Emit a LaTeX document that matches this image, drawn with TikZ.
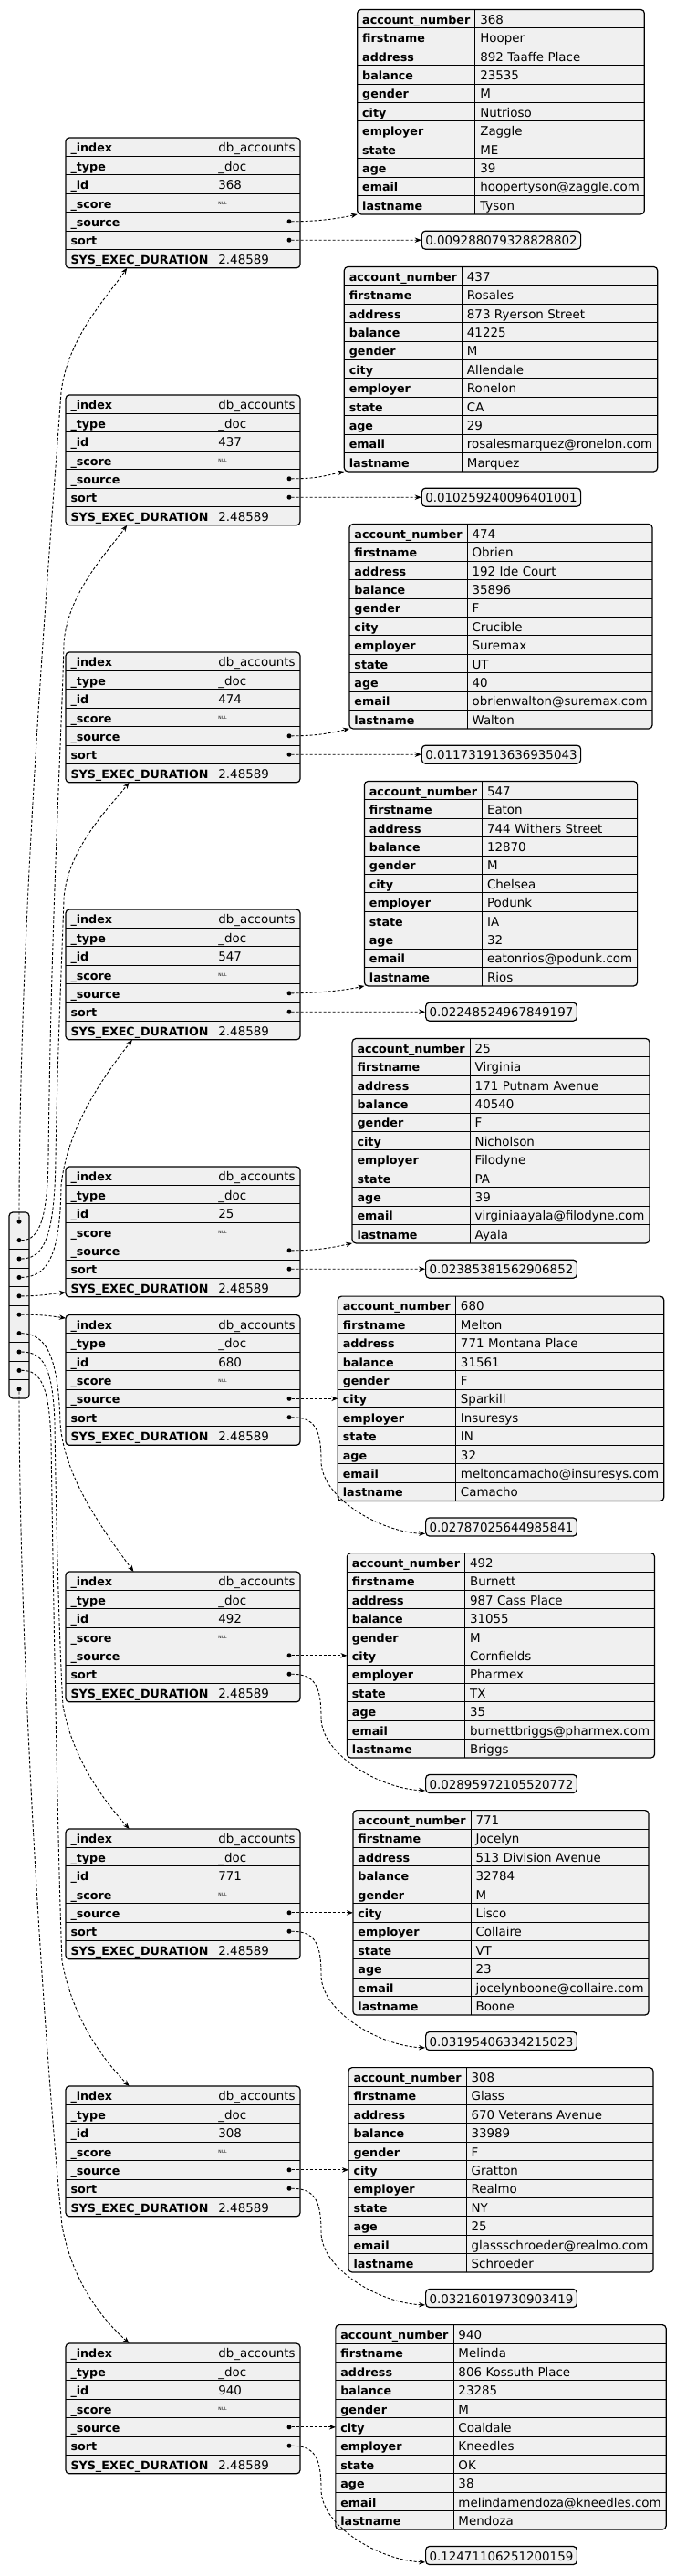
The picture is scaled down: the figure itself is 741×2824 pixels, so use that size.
\documentclass[tikz,border=0pt]{standalone}
\usepackage{fontspec}
\setmainfont{DejaVu Sans}
\usetikzlibrary{
  arrows.meta,
  positioning,  % Function "of" (e.g. [right=of x])
  backgrounds,  % Predefined layer named "background"
  calc,         % Calculations $...$
}
\definecolor{cellfill}{HTML}{F0F0F0}
\newcommand{\keyfont}{\fontsize{12.7}{15}\selectfont\bfseries}
\newcommand{\valfont}{\fontsize{13.4}{16}\selectfont}
\newcommand{\nulmark}{\raisebox{3.5pt}{\fontsize{4.5}{5}\selectfont NUL}}
\newcommand{\srckey}[1]{\ifcase#1\or account\_number\or firstname\or address\or
  balance\or gender\or city\or employer\or state\or age\or email\or lastname\fi}
\def\myrowh{20.4}
\newdimen\hkeyw
\newdimen\hvalw
\newdimen\skeyw
\newdimen\svalw
\newdimen\mytmpw
% widest text of a list, measured outside the picture's null font
\newcommand{\widest}[3]{%
  \global#1=0pt
  \pgfinterruptpicture
  \foreach \v in {#3} {%
    \settowidth{\mytmpw}{#2\v}%
    \ifdim\mytmpw>#1\global#1=\mytmpw\fi
  }%
  \endpgfinterruptpicture
}
\tikzset{
  font=\valfont,
  my key/.style={
    anchor=north west,
    text width=#1,
    align=left,
    font=\keyfont,
    inner xsep=5.5pt,
    inner ysep=0pt,
    outer sep=0pt,
    minimum height=\myrowh pt,
    text height=13pt,
    text depth=1.8pt
  },
  my value/.style={
    my key=#1,
    font=\valfont
  },
  my cell/.style={
    minimum width=22pt,
    minimum height=\myrowh pt,
    inner sep=0pt,
    outer sep=0pt
  },
  my box/.style={
    draw,
    fill=cellfill,
    line width=1.2pt,
    rounded corners=4pt
  },
  my rule/.style={
    line width=0.9pt
  },
  my port/.style={
    circle,
    fill,
    inner sep=0pt,
    minimum size=5pt
  },
  my sort/.style={
    my box,
    inner xsep=4pt,
    inner ysep=0pt,
    minimum height=20pt,
    text height=13pt,
    text depth=1.8pt
  },
  my link/.style={
    -{Stealth[length=7pt,width=5.5pt]},
    line width=0.9pt,
    dash pattern=on 3pt off 2pt
  }
}
% one hit: #1 name, #2 top, #3 id
\newcommand{\hitrec}[3]{%
  \foreach \k/\v [count=\i] in {\_index/db\_accounts, \_type/\_doc, \_id/#3,
      \_score/\nulmark, \_source/{}, sort/{}, SYS\_EXEC\_DURATION/2.48589} {
    \node[my key=\hkeyw] (#1-k\i) at (72,{#2+(\i-1)*\myrowh}) {\k};
    \node[my value=\hvalw] (#1-v\i) at (#1-k\i.north east) {\v};
  }
  \begin{scope}[on background layer]
    \draw[my box] (#1-k1.north west) rectangle (#1-v7.south east);
  \end{scope}
  \foreach \i in {2,...,7}
    \draw[my rule] (#1-k\i.north west) -- (#1-v\i.north east);
  \draw[my rule] (#1-k1.north east) -- (#1-k7.south east);
  \node[my port] (#1-srcdot) at ($(#1-v5.east)+(-12,0)$) {};
  \node[my port] (#1-sortdot) at ($(#1-v6.east)+(-12,0)$) {};
}
% one _source: #1 name, #2 top, #3 values
\newcommand{\srcrec}[3]{%
  \widest{\svalw}{\valfont}{#3}
  \pgfmathsetmacro{\srcleft}{549-(\skeyw+\svalw+22pt)/2}
  \foreach \v [count=\i] in {#3} {
    \node[my key=\skeyw] (#1-k\i) at (\srcleft,{#2+(\i-1)*\myrowh}) {\srckey{\i}};
    \node[my value=\svalw] (#1-v\i) at (#1-k\i.north east) {\v};
  }
  \begin{scope}[on background layer]
    \draw[my box] (#1-k1.north west) rectangle (#1-v11.south east);
  \end{scope}
  \foreach \i in {2,...,11}
    \draw[my rule] (#1-k\i.north west) -- (#1-v\i.north east);
  \draw[my rule] (#1-k1.north east) -- (#1-k11.south east);
}
\begin{document}
\begin{tikzpicture}[x=1pt,y=-1pt]
\useasboundingbox (0,0) rectangle (741,2824);
\widest{\hkeyw}{\keyfont}{SYS\_EXEC\_DURATION}
\widest{\hvalw}{\valfont}{db\_accounts}
\widest{\skeyw}{\keyfont}{account\_number}

\foreach \i in {1,...,10} {
  \node[my cell] (cell\i) at (21,{1329+(\i-0.5)*\myrowh}) {};
  \node[my port] (arr\i) at (cell\i) {};
}
\begin{scope}[on background layer]
  \draw[my box] (cell1.north west) rectangle (cell10.south east);
\end{scope}
\foreach \i in {2,...,10}
  \draw[my rule] (cell\i.north west) -- (cell\i.north east);

\hitrec{h1}{151}{368}
\srcrec{src1}{10.5}{368, Hooper, 892 Taaffe Place, 23535, M, Nutrioso, Zaggle, ME, 39, hoopertyson@zaggle.com, Tyson}
\node[my sort] (s1) at (549.5,263.2) {0.009288079328828802};

\hitrec{h2}{433}{437}
\srcrec{src2}{292.5}{437, Rosales, 873 Ryerson Street, 41225, M, Allendale, Ronelon, CA, 29, rosalesmarquez@ronelon.com, Marquez}
\node[my sort] (s2) at (549.5,545.2) {0.010259240096401001};

\hitrec{h3}{715}{474}
\srcrec{src3}{574.5}{474, Obrien, 192 Ide Court, 35896, F, Crucible, Suremax, UT, 40, obrienwalton@suremax.com, Walton}
\node[my sort] (s3) at (549.5,827.2) {0.011731913636935043};

\hitrec{h4}{997}{547}
\srcrec{src4}{856.5}{547, Eaton, 744 Withers Street, 12870, M, Chelsea, Podunk, IA, 32, eatonrios@podunk.com, Rios}
\node[my sort] (s4) at (549.5,1109.2) {0.02248524967849197};

\hitrec{h5}{1279}{25}
\srcrec{src5}{1138.5}{25, Virginia, 171 Putnam Avenue, 40540, F, Nicholson, Filodyne, PA, 39, virginiaayala@filodyne.com, Ayala}
\node[my sort] (s5) at (549.5,1391.2) {0.02385381562906852};

\hitrec{h6}{1441.5}{680}
\srcrec{src6}{1421.1}{680, Melton, 771 Montana Place, 31561, F, Sparkill, Insuresys, IN, 32, meltoncamacho@insuresys.com, Camacho}
\node[my sort] (s6) at (549.5,1674) {0.02787025644985841};

\hitrec{h7}{1723}{492}
\srcrec{src7}{1702.6}{492, Burnett, 987 Cass Place, 31055, M, Cornfields, Pharmex, TX, 35, burnettbriggs@pharmex.com, Briggs}
\node[my sort] (s7) at (549.5,1955.5) {0.02895972105520772};

\hitrec{h8}{2005}{771}
\srcrec{src8}{1984.6}{771, Jocelyn, 513 Division Avenue, 32784, M, Lisco, Collaire, VT, 23, jocelynboone@collaire.com, Boone}
\node[my sort] (s8) at (549.5,2237.5) {0.03195406334215023};

\hitrec{h9}{2287}{308}
\srcrec{src9}{2266.6}{308, Glass, 670 Veterans Avenue, 33989, F, Gratton, Realmo, NY, 25, glassschroeder@realmo.com, Schroeder}
\node[my sort] (s9) at (549.5,2519.5) {0.03216019730903419};

\hitrec{h10}{2569}{940}
\srcrec{src10}{2548.6}{940, Melinda, 806 Kossuth Place, 23285, M, Coaldale, Kneedles, OK, 38, melindamendoza@kneedles.com, Mendoza}
\node[my sort] (s10) at (549.5,2801.5) {0.12471106251200159};

\foreach \n in {1,...,5} {
  \draw[my link] (h\n-srcdot) .. controls +(30,0) and +(-22,5) .. (src\n-k11.south west);
  \draw[my link] (h\n-sortdot) -- (s\n);
}
\foreach \n in {6,...,10} {
  \draw[my link] (h\n-srcdot) -- (src\n-k6.west);
  \draw[my link] (h\n-sortdot) .. controls +(28,0) and +(0,-35) .. ($(h\n-sortdot)+(35,48)$)
    .. controls +(0,40) and +(-50,-2) .. ($(s\n.west)!0.7!(s\n.south west)$);
}

\draw[my link] (arr1) .. controls (21,1000) and (55,600) .. (67,430)
  .. controls (74,370) and (118,325) .. ($(h1-k7.south west)!0.415!(h1-k7.south east)$);
\draw[my link] (arr2) .. controls (45,1360) and (52,1330) .. (53,1270)
  .. controls (56,1000) and (68,800) .. (70,705)
  .. controls (74,650) and (118,605) .. ($(h2-k7.south west)!0.415!(h2-k7.south east)$);
\draw[my link] (arr3) .. controls (50,1380) and (60,1350) .. (61,1270)
  .. controls (63,1150) and (68,1050) .. (70,985)
  .. controls (74,930) and (120,885) .. ($(h3-k7.south west)!0.43!(h3-k7.south east)$);
\draw[my link] (arr4) .. controls (55,1400) and (66,1370) .. (67,1300)
  .. controls (74,1230) and (122,1170) .. ($(h4-k7.south west)!0.45!(h4-k7.south east)$);
\draw[my link] (arr5) .. controls (45,1421) and (58,1418) .. ($(h5-k7.west)!0.53!(h5-k7.south west)$);
\draw[my link] (arr6) .. controls (45,1441) and (58,1443) .. ($(h6-k1.north west)!0.35!(h6-k1.west)$);
\draw[my link] (arr7) .. controls (52,1462) and (64,1490) .. (66,1560)
  .. controls (70,1620) and (115,1680) .. ($(h7-k1.north west)!0.46!(h7-k1.north east)$);
\draw[my link] (arr8) .. controls (48,1482) and (58,1500) .. (60,1560)
  .. controls (62,1700) and (66,1820) .. (69,1870)
  .. controls (80,1930) and (115,1975) .. ($(h8-k1.north west)!0.43!(h8-k1.north east)$);
\draw[my link] (arr9) .. controls (45,1502) and (54,1520) .. (56,1580)
  .. controls (60,1850) and (65,2080) .. (68,2150)
  .. controls (80,2215) and (115,2260) .. ($(h9-k1.north west)!0.43!(h9-k1.north east)$);
\draw[my link] (arr10) .. controls (21,1800) and (45,2200) .. (68,2440)
  .. controls (80,2505) and (115,2545) .. ($(h10-k1.north west)!0.43!(h10-k1.north east)$);
\end{tikzpicture}
\end{document}
